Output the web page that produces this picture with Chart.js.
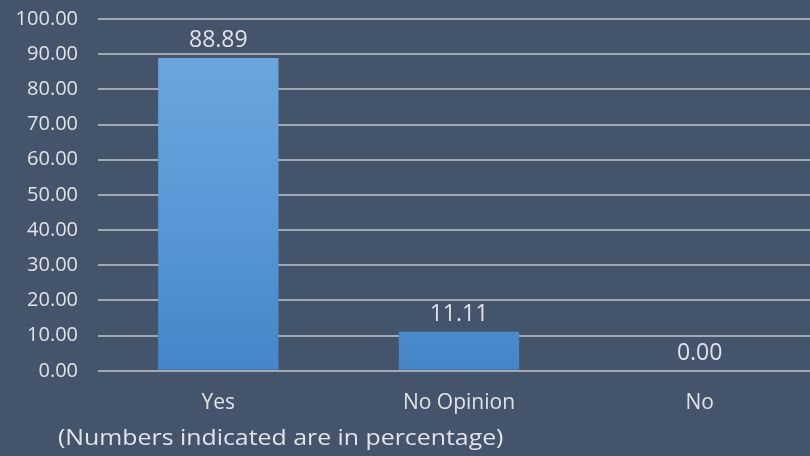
<!DOCTYPE html>
<html>
<head>
<meta charset="utf-8">
<script src="https://cdn.jsdelivr.net/npm/chart.js@4/dist/chart.umd.min.js"></script>
<style>
  html, body { margin: 0; padding: 0; background: #44546a; overflow: hidden; }
  #wrap { position: relative; width: 810px; height: 456px; overflow: hidden; }
  #c { position: absolute; left: 0; top: -13px; }
  #note { position: absolute; left: 58px; top: 421px; color: #e0e3e8; font: 22px "Open Sans", sans-serif;
          transform: scaleX(1.13); transform-origin: left top; white-space: nowrap; }
</style>
</head>
<body>
<div id="wrap">
  <canvas id="c" width="820" height="469"></canvas>
  <div id="note">(Numbers indicated are in percentage)</div>
</div>
<script>
const categories = ["Yes", "No Opinion", "No"];
const values = [88.89, 11.11, 0.00];

const TEXT = "#dfe2e7";
const GRID = "#a0a8b4";

// value labels above each bar
const valueLabels = {
  id: "valueLabels",
  afterDatasetsDraw(chart) {
    const { ctx } = chart;
    const meta = chart.getDatasetMeta(0);
    ctx.save();
    ctx.fillStyle = TEXT;
    ctx.font = '23px "Open Sans", sans-serif';
    ctx.textAlign = "center";
    ctx.textBaseline = "bottom";
    meta.data.forEach((bar, i) => {
      ctx.fillText(values[i].toFixed(2), bar.x, bar.y - 6);
    });
    ctx.restore();
  },
};

function barFill(context) {
  const { chart } = context;
  const area = chart.chartArea;
  if (!area) return "#5b9bd5";
  const g = chart.ctx.createLinearGradient(0, area.top, 0, area.bottom);
  g.addColorStop(0, "#70a9de");
  g.addColorStop(0.5, "#5a9ad8");
  g.addColorStop(1, "#4586c8");
  return g;
}

new Chart(document.getElementById("c"), {
  type: "bar",
  data: {
    labels: categories,
    datasets: [{ data: values, backgroundColor: barFill, borderWidth: 0,
      barPercentage: 0.5, categoryPercentage: 1.0 }],
  },
  options: {
    responsive: false, animation: false,
    layout: { padding: { top: 0, bottom: 28, left: 0, right: 0 } },
    plugins: { legend: { display: false }, tooltip: { enabled: false } },
    scales: {
      x: {
        grid: { display: false },
        border: { display: false },
        ticks: { color: TEXT, font: { family: "Open Sans", size: 21 }, padding: 12 },
      },
      y: {
        min: 0, max: 100,
        afterFit(s) { s.width = 98; },
        ticks: { stepSize: 10, color: TEXT, padding: 20,
          font: { family: "Open Sans", size: 20 },
          callback: (v) => Number(v).toFixed(2) },
        grid: { color: GRID, lineWidth: 2, drawTicks: false },
        border: { display: false },
      },
    },
  },
  plugins: [valueLabels],
});
</script>
</body>
</html>
